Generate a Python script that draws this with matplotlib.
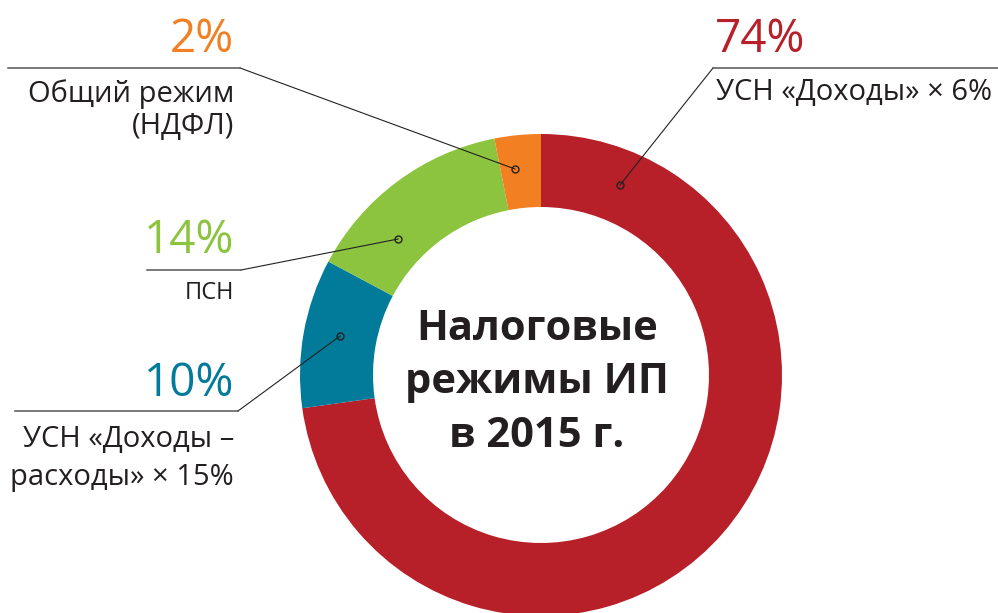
import matplotlib
matplotlib.use('Agg')
import matplotlib.pyplot as plt

plt.rcParams['font.family'] = ['Open Sans', 'DejaVu Sans']

# slice shares measured from the ring (drawn clockwise from the top)
regimes = ['УСН «Доходы» × 6%', 'УСН «Доходы –\nрасходы» × 15%', 'ПСН', 'Общий режим\n(НДФЛ)']
shares = [72.8, 10.0, 14.1, 3.1]
pct_labels = ['74%', '10%', '14%', '2%']
colors = ['#B71F29', '#027A99', '#8CC43F', '#F28023']
title = 'Налоговые\nрежимы ИП\nв 2015 г.'

text_col = '#231F20'

fig = plt.figure(figsize=(9.98, 6.13), dpi=100)
ax = fig.add_axes([0, 0, 1, 1])

# ring in pixel coordinates (y axis flipped below)
cx, cy, r_out, r_in = 541, 375, 241, 168
ax.pie(shares, colors=colors, startangle=270, counterclock=True,
       center=(cx, cy), radius=r_out,
       wedgeprops=dict(width=r_out - r_in, linewidth=0))
ax.set_xlim(0, 998)
ax.set_ylim(613, 0)
ax.set_aspect('auto')
ax.axis('off')

for line, yb in zip(title.split('\n'), [340, 393, 447]):
    ax.text(cx - 4, yb, line, ha='center', va='baseline',
            fontsize=30, fontweight='bold', color=text_col)

# leader lines: (dot, elbow, far end of the underline)
leaders = [
    ((620, 185), (713, 68), (998, 68)),
    ((340, 336), (238, 411), (15, 411)),
    ((398, 239), (241, 270), (147, 270)),
    ((515, 169), (240, 68), (8, 68)),
]
for (d, e, f) in leaders:
    ax.plot([d[0], e[0]], [d[1], e[1]], color='#222222', lw=0.8)
    ax.plot([e[0], f[0]], [e[1], f[1]], color='#555555', lw=1.1)
    ax.plot(d[0], d[1], marker='o', ms=5, mfc='none', mec='#222222', mew=1.0)

# red label (right side, left aligned)
ax.text(715, 52, pct_labels[0], ha='left', va='baseline', fontsize=33, color=colors[0])
ax.text(716, 100, regimes[0], ha='left', va='baseline', fontsize=21, color=text_col)

# blue
ax.text(234, 396, pct_labels[1], ha='right', va='baseline', fontsize=33, color=colors[1])
ax.text(234, 447, regimes[1].split('\n')[0], ha='right', va='baseline', fontsize=21, color=text_col)
ax.text(234, 485, regimes[1].split('\n')[1], ha='right', va='baseline', fontsize=21, color=text_col)

# green
ax.text(234, 253, pct_labels[2], ha='right', va='baseline', fontsize=33, color=colors[2])
ax.text(234, 299, regimes[2], ha='right', va='baseline', fontsize=17, color=text_col)

# orange
ax.text(234, 52, pct_labels[3], ha='right', va='baseline', fontsize=33, color=colors[3])
ax.text(234, 102, regimes[3].split('\n')[0], ha='right', va='baseline', fontsize=21, color=text_col)
ax.text(234, 134, regimes[3].split('\n')[1], ha='right', va='baseline', fontsize=21, color=text_col)

fig.savefig('out.png', dpi=100)
